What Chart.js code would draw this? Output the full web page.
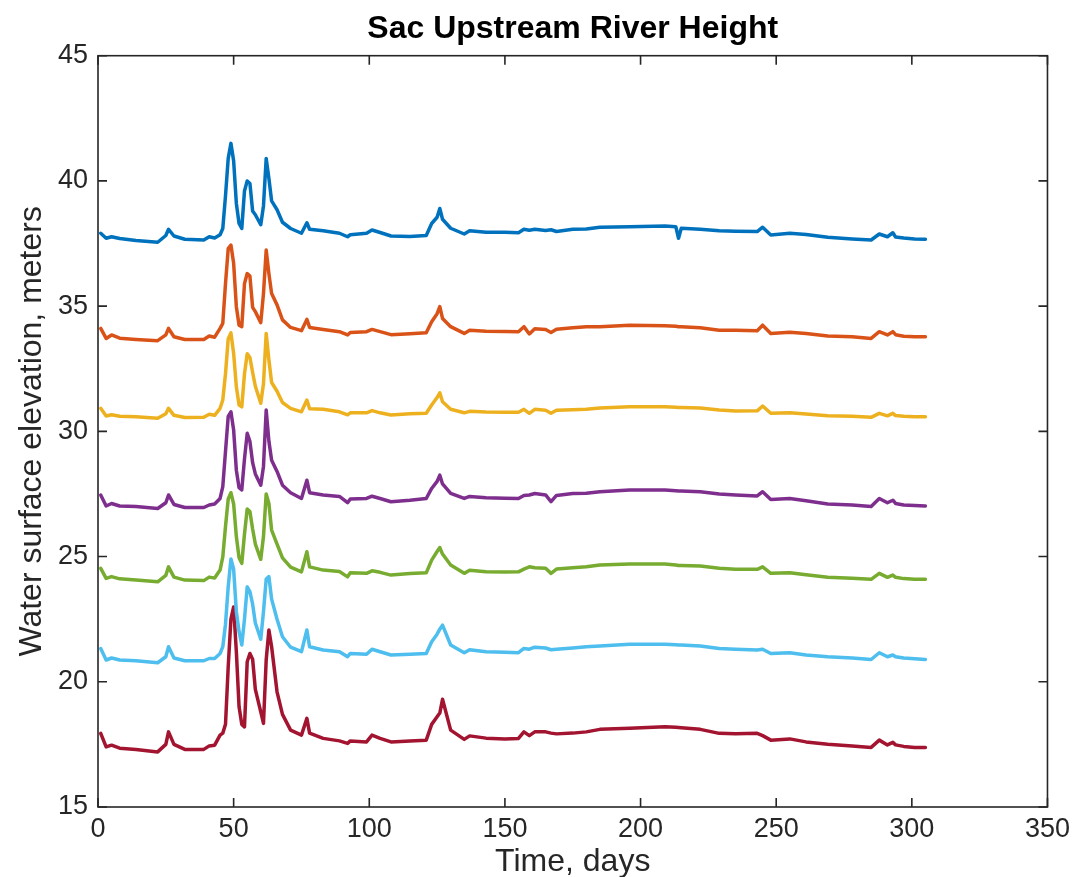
<!DOCTYPE html>
<html>
<head>
<meta charset="utf-8">
<title>Sac Upstream River Height</title>
<script src="https://cdn.jsdelivr.net/npm/chart.js@4/dist/chart.umd.min.js"></script>
<style>
  html, body { margin: 0; padding: 0; background: #fff; }
  #wrap { width: 1076px; height: 877px; }
</style>
</head>
<body>
<div id="wrap"><canvas id="riverChart" width="1076" height="877"></canvas></div>
<script>
// day of year for each sample (shared by all stations)
const DAYS = [1, 3, 5, 8, 14, 22, 25, 26, 28, 32,
  39, 41, 43, 45, 46, 47, 48, 49, 50, 51,
  52, 53, 54, 55, 56, 57, 58, 60, 61, 62,
  63, 64, 66, 68, 71, 75, 77, 78, 83, 89,
  92, 93, 99, 101, 104, 108, 115, 121, 123, 125,
  126, 127, 130, 135, 137, 143, 150, 155, 157, 159,
  161, 165, 167, 169, 175, 180, 185, 196, 209, 213,
  214, 215, 222, 229, 235, 243, 245, 248, 255, 261,
  269, 278, 285, 288, 291, 293, 294, 297, 301, 305];

// water surface elevation (m), one list per station, top to bottom
const station1 = [37.91, 37.71, 37.77, 37.70, 37.62, 37.55, 37.82, 38.07, 37.80, 37.67,
  37.64, 37.77, 37.72, 37.85, 38.10, 39.40, 40.90, 41.50, 40.80, 39.10,
  38.30, 38.10, 39.60, 40.00, 39.90, 38.80, 38.65, 38.25, 39.00, 40.90,
  40.10, 39.20, 38.85, 38.35, 38.10, 37.91, 38.33, 38.07, 38.01, 37.91,
  37.77, 37.85, 37.91, 38.04, 37.94, 37.80, 37.78, 37.82, 38.30, 38.55,
  38.90, 38.47, 38.11, 37.88, 38.01, 37.95, 37.95, 37.93, 38.07, 38.03,
  38.07, 38.02, 38.05, 37.98, 38.07, 38.08, 38.15, 38.17, 38.20, 38.17,
  37.71, 38.11, 38.07, 38.01, 37.99, 37.98, 38.15, 37.84, 37.91, 37.86,
  37.75, 37.68, 37.64, 37.88, 37.77, 37.93, 37.76, 37.72, 37.68, 37.67];

const station2 = [34.11, 33.71, 33.85, 33.72, 33.67, 33.62, 33.85, 34.11, 33.78, 33.67,
  33.67, 33.81, 33.76, 34.11, 34.31, 35.90, 37.30, 37.44, 36.71, 34.98,
  34.24, 34.18, 35.90, 36.30, 36.20, 34.95, 34.78, 34.34, 35.50, 37.24,
  36.30, 35.50, 35.05, 34.45, 34.15, 34.02, 34.47, 34.15, 34.07, 33.98,
  33.85, 33.95, 33.98, 34.07, 33.98, 33.86, 33.90, 33.94, 34.38, 34.70,
  34.98, 34.51, 34.18, 33.91, 34.04, 34.00, 33.99, 33.98, 34.18, 33.89,
  34.10, 34.07, 33.95, 34.08, 34.14, 34.18, 34.18, 34.24, 34.22, 34.20,
  34.18, 34.18, 34.14, 34.04, 34.04, 34.02, 34.24, 33.91, 33.96, 33.91,
  33.81, 33.78, 33.71, 33.98, 33.85, 33.98, 33.86, 33.80, 33.78, 33.78];

const station3 = [30.92, 30.61, 30.66, 30.60, 30.58, 30.52, 30.70, 30.92, 30.64, 30.55,
  30.56, 30.68, 30.64, 30.92, 31.25, 32.30, 33.70, 33.93, 33.11, 31.78,
  31.05, 30.98, 32.30, 33.10, 32.95, 32.35, 31.80, 31.12, 31.90, 33.91,
  32.85, 31.95, 31.60, 31.15, 30.92, 30.78, 31.25, 30.90, 30.88, 30.78,
  30.66, 30.74, 30.74, 30.83, 30.74, 30.65, 30.70, 30.72, 31.05, 31.35,
  31.54, 31.18, 30.88, 30.74, 30.80, 30.77, 30.76, 30.76, 30.88, 30.72,
  30.88, 30.84, 30.72, 30.84, 30.86, 30.88, 30.93, 30.98, 30.98, 30.96,
  30.95, 30.95, 30.93, 30.85, 30.81, 30.82, 31.01, 30.72, 30.74, 30.69,
  30.62, 30.60, 30.56, 30.72, 30.62, 30.72, 30.63, 30.60, 30.58, 30.58];

const station4 = [27.46, 27.02, 27.12, 27.02, 27.00, 26.92, 27.15, 27.46, 27.08, 26.96,
  26.96, 27.06, 27.10, 27.32, 27.79, 29.20, 30.60, 30.78, 30.05, 28.45,
  27.75, 27.66, 28.90, 29.92, 29.60, 28.75, 28.30, 27.85, 28.60, 30.85,
  29.60, 28.85, 28.40, 27.85, 27.55, 27.32, 28.05, 27.55, 27.46, 27.40,
  27.15, 27.30, 27.32, 27.41, 27.32, 27.19, 27.25, 27.32, 27.72, 28.00,
  28.25, 27.90, 27.52, 27.32, 27.40, 27.35, 27.33, 27.32, 27.44, 27.46,
  27.52, 27.46, 27.19, 27.44, 27.52, 27.53, 27.59, 27.66, 27.66, 27.63,
  27.62, 27.62, 27.59, 27.50, 27.46, 27.42, 27.59, 27.28, 27.32, 27.23,
  27.10, 27.06, 27.00, 27.32, 27.15, 27.25, 27.12, 27.06, 27.04, 27.02];

const station5 = [24.53, 24.13, 24.20, 24.11, 24.06, 23.99, 24.25, 24.59, 24.18, 24.06,
  24.04, 24.18, 24.14, 24.46, 24.99, 26.20, 27.30, 27.55, 27.10, 25.80,
  24.95, 24.73, 25.90, 26.90, 26.80, 26.10, 25.50, 24.89, 25.80, 27.50,
  27.12, 26.06, 25.50, 24.95, 24.58, 24.39, 25.19, 24.59, 24.46, 24.40,
  24.19, 24.35, 24.33, 24.43, 24.37, 24.26, 24.32, 24.35, 24.86, 25.20,
  25.36, 25.10, 24.66, 24.33, 24.45, 24.39, 24.38, 24.39, 24.50, 24.59,
  24.55, 24.53, 24.33, 24.50, 24.55, 24.59, 24.66, 24.70, 24.70, 24.66,
  24.64, 24.64, 24.62, 24.53, 24.49, 24.49, 24.59, 24.33, 24.35, 24.27,
  24.17, 24.13, 24.09, 24.33, 24.17, 24.26, 24.17, 24.12, 24.09, 24.09];

const station6 = [21.33, 20.87, 20.95, 20.87, 20.84, 20.76, 21.00, 21.40, 20.95, 20.84,
  20.84, 20.93, 20.93, 21.13, 21.40, 22.30, 23.80, 24.90, 24.50, 22.80,
  22.00, 21.47, 22.50, 23.79, 23.60, 23.10, 22.35, 21.70, 22.80, 24.10,
  24.20, 23.30, 22.50, 21.80, 21.38, 21.20, 22.07, 21.40, 21.27, 21.20,
  21.00, 21.13, 21.10, 21.30, 21.20, 21.07, 21.10, 21.13, 21.60, 21.90,
  22.10, 22.26, 21.47, 21.16, 21.28, 21.20, 21.18, 21.16, 21.33, 21.30,
  21.38, 21.35, 21.28, 21.30, 21.35, 21.40, 21.43, 21.50, 21.50, 21.48,
  21.47, 21.47, 21.43, 21.33, 21.30, 21.27, 21.30, 21.13, 21.16, 21.07,
  21.00, 20.95, 20.89, 21.16, 21.00, 21.07, 21.00, 20.95, 20.92, 20.89];

const station7 = [17.94, 17.40, 17.47, 17.35, 17.30, 17.20, 17.50, 18.00, 17.50, 17.30,
  17.30, 17.44, 17.47, 17.87, 17.95, 18.30, 20.60, 22.50, 22.99, 21.20,
  19.00, 18.30, 18.20, 20.80, 21.13, 20.90, 19.70, 18.80, 18.34, 20.87,
  22.07, 21.40, 19.60, 18.70, 18.07, 17.87, 18.54, 17.95, 17.74, 17.64,
  17.54, 17.64, 17.60, 17.87, 17.74, 17.60, 17.64, 17.67, 18.30, 18.60,
  18.75, 19.30, 18.07, 17.70, 17.84, 17.75, 17.72, 17.74, 18.00, 17.85,
  18.00, 18.00, 17.95, 17.92, 17.95, 18.00, 18.10, 18.14, 18.20, 18.18,
  18.17, 18.16, 18.10, 17.94, 17.92, 17.94, 17.85, 17.67, 17.72, 17.60,
  17.51, 17.44, 17.38, 17.67, 17.48, 17.58, 17.48, 17.42, 17.38, 17.38];

const STATIONS = [station1, station2, station3, station4, station5, station6, station7];
const COLORS = ['#0072BD', '#D95319', '#EDB120', '#7E2F8E', '#77AC30', '#4DBEEE', '#A2142F'];

const X_TICKS = [0, 50, 100, 150, 200, 250, 300, 350];
const Y_TICKS = [15, 20, 25, 30, 35, 40, 45];

const FONT = '"Liberation Sans", Arial, Helvetica, sans-serif';
const AXIS_COLOR = '#262626';
const TICK_LEN = 9;

// MATLAB style box with inward ticks on all four sides
const axisBox = {
  id: 'axisBox',
  beforeDatasetsDraw(chart) {
    const { ctx, chartArea: a, scales: { x, y } } = chart;
    ctx.save();
    ctx.strokeStyle = AXIS_COLOR;
    ctx.lineWidth = 1.6;
    ctx.strokeRect(a.left, a.top, a.right - a.left, a.bottom - a.top);
    ctx.beginPath();
    X_TICKS.forEach(v => {
      const px = x.getPixelForValue(v);
      ctx.moveTo(px, a.bottom); ctx.lineTo(px, a.bottom - TICK_LEN);
      ctx.moveTo(px, a.top); ctx.lineTo(px, a.top + TICK_LEN);
    });
    Y_TICKS.forEach(v => {
      const py = y.getPixelForValue(v);
      ctx.moveTo(a.left, py); ctx.lineTo(a.left + TICK_LEN, py);
      ctx.moveTo(a.right, py); ctx.lineTo(a.right - TICK_LEN, py);
    });
    ctx.stroke();
    ctx.restore();
  }
};

const datasets = STATIONS.map((vals, i) => ({
  label: 'Station ' + (i + 1),
  data: DAYS.map((d, j) => ({ x: d, y: vals[j] })),
  borderColor: COLORS[i],
  borderWidth: 3.5,
  pointRadius: 0,
  tension: 0,
  fill: false,
  borderJoinStyle: 'round',
  borderCapStyle: 'round'
}));

new Chart(document.getElementById('riverChart'), {
  type: 'line',
  data: { datasets },
  options: {
    responsive: false,
    animation: false,
    layout: { padding: { left: 0, right: 26.5, top: 0, bottom: 0 } },
    plugins: {
      legend: { display: false },
      tooltip: { enabled: false },
      title: {
        display: true,
        text: 'Sac Upstream River Height',
        color: '#000',
        fullSize: false,
        font: { family: FONT, size: 32, weight: 'bold', lineHeight: 1.2 },
        padding: { top: 10, bottom: 7.3 }
      }
    },
    scales: {
      x: {
        type: 'linear',
        min: 0,
        max: 350,
        afterFit: s => { s.height = 70; },
        grid: { display: false, drawTicks: false },
        border: { display: false },
        ticks: {
          stepSize: 50,
          padding: 6,
          maxRotation: 0,
          color: AXIS_COLOR,
          font: { family: FONT, size: 27 }
        },
        title: {
          display: true,
          text: 'Time, days',
          color: AXIS_COLOR,
          font: { family: FONT, size: 32, lineHeight: 0.9 },
          padding: { top: 0, bottom: 0 }
        }
      },
      y: {
        min: 15,
        max: 45,
        afterFit: s => { s.width = 98; },
        grid: { display: false, drawTicks: false },
        border: { display: false },
        ticks: {
          stepSize: 5,
          padding: 10,
          color: AXIS_COLOR,
          font: { family: FONT, size: 27 }
        },
        title: {
          display: true,
          text: 'Water surface elevation, meters',
          color: AXIS_COLOR,
          font: { family: FONT, size: 32, lineHeight: 1.2 },
          padding: { top: 13, bottom: 0 }
        }
      }
    }
  },
  plugins: [axisBox]
});
</script>
</body>
</html>
